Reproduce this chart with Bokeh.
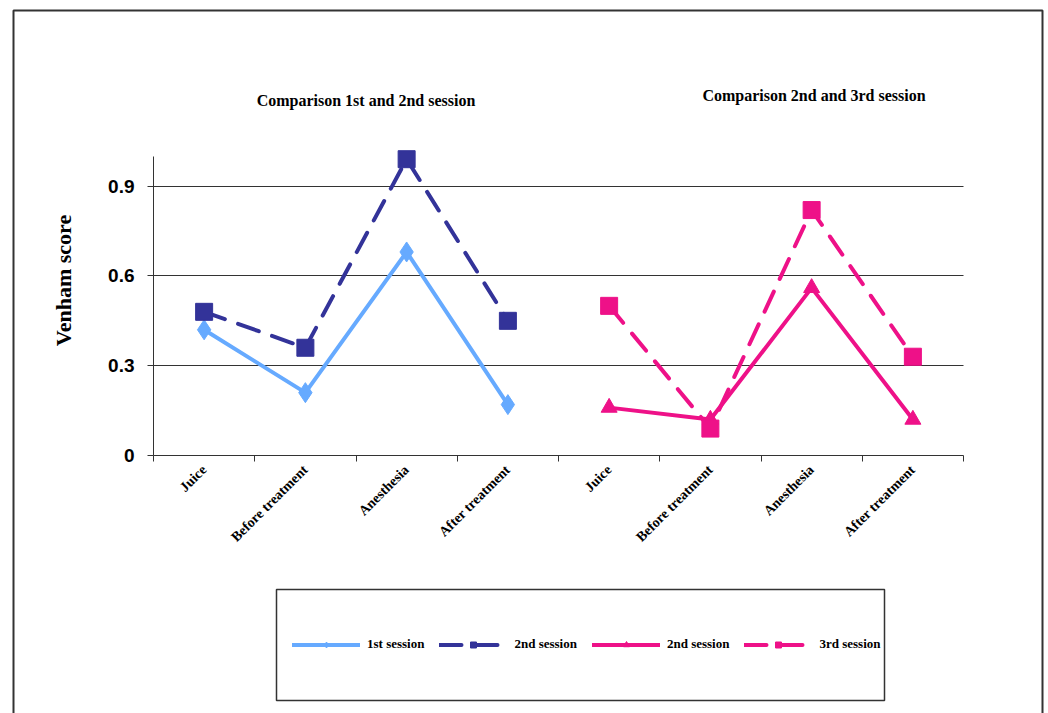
import math
from bokeh.plotting import figure
from bokeh.models import (FixedTicker, Legend, LegendItem, Label, BoxAnnotation, Range1d)
from bokeh.embed import file_html
from bokeh.resources import INLINE

# ---- data ----
categories = ["Juice", "Before treatment", "Anesthesia", "After treatment"]
session1 = [0.42, 0.21, 0.68, 0.17]          # 1st session (left panel)
session2_left = [0.48, 0.36, 0.99, 0.45]     # 2nd session (left panel)
session2_right = [0.16, 0.12, 0.56, 0.12]    # 2nd session (right panel)
session3 = [0.50, 0.09, 0.82, 0.33]          # 3rd session (right panel)
y_ticks = [0, 0.3, 0.6, 0.9]
y_tick_labels = ["0", "0.3", "0.6", "0.9"]
y_label = "Venham score"
titles = ["Comparison 1st and 2nd session", "Comparison 2nd and 3rd session"]
legend_labels = ["1st session", "2nd session", "2nd session", "3rd session"]

n = len(categories)
x_left = [i + 0.5 for i in range(n)]
x_right = [n + i + 0.5 for i in range(n)]

W, H = 1048, 713
# plot area in pixels: x 0..2n -> 153..963, y 0..1 -> 455..155.7
PX0, PX1 = 153, 963
PY0, PY1 = 455, 155.7
sx = (PX1 - PX0) / (2 * n)
sy = (PY0 - PY1) / 1.0


def px_x(px):
    return (px - PX0) / sx


def px_y(py):
    return (PY0 - py) / sy


LIGHT = "#66AAFF"
DARK = "#333399"
PINK = "#EE1188"
SERIF = "Liberation Serif"
AX = "#333333"

p = figure(width=W, height=H, output_backend="svg", toolbar_location=None, title=None,
           x_range=Range1d(px_x(0), px_x(W)), y_range=Range1d(px_y(H), px_y(0)),
           min_border=0, background_fill_color="white", border_fill_color="white")
p.outline_line_color = None

# axes fixed at the data origin
p.xaxis.fixed_location = 0
p.xaxis.bounds = (0, 2 * n)
p.xaxis.ticker = FixedTicker(ticks=x_left + x_right, minor_ticks=list(range(2 * n + 1)))
p.xaxis.major_label_overrides = {x: c for x, c in zip(x_left + x_right, categories * 2)}
p.xaxis.major_tick_out = 0
p.xaxis.major_tick_in = 0
p.xaxis.minor_tick_out = 6
p.xaxis.minor_tick_in = 0
p.xaxis.major_label_orientation = math.pi / 4
p.xaxis.major_label_text_font = SERIF
p.xaxis.major_label_text_font_style = "bold"
p.xaxis.major_label_text_font_size = "14px"
p.xaxis.major_label_text_color = "black"
p.xaxis.major_label_standoff = 6
p.xaxis.axis_line_color = AX
p.xaxis.minor_tick_line_color = AX

p.yaxis.fixed_location = 0
p.yaxis.bounds = (0, 1)
p.yaxis.ticker = FixedTicker(ticks=y_ticks, minor_ticks=[])
p.yaxis.major_label_overrides = {t: l for t, l in zip(y_ticks, y_tick_labels)}
p.yaxis.major_tick_out = 6
p.yaxis.major_tick_in = 0
p.yaxis.minor_tick_out = 0
p.yaxis.major_label_text_font = "Liberation Sans"
p.yaxis.major_label_text_font_style = "bold"
p.yaxis.major_label_text_font_size = "19px"
p.yaxis.major_label_text_color = "black"
p.yaxis.major_label_standoff = 13
p.yaxis.axis_line_color = AX
p.yaxis.major_tick_line_color = AX

p.xgrid.visible = False
p.ygrid.ticker = FixedTicker(ticks=y_ticks[1:])
p.ygrid.cross_bounds = (0, 2 * n)
p.ygrid.grid_line_color = AX
p.ygrid.grid_line_width = 1

# y axis title
p.add_layout(Label(x=px_x(63), y=px_y(280), text=y_label, angle=math.pi / 2,
                   text_font=SERIF, text_font_style="bold", text_font_size="22px",
                   text_align="center", text_baseline="middle", text_color="black"))

# series
dash = "22 14"
r1l = p.line(x_left, session1, line_color=LIGHT, line_width=4, line_cap="round")
r1s = p.scatter(x_left, session1, marker="diamond", size=20, color=LIGHT)
r2l = p.line(x_left, session2_left, line_color=DARK, line_width=4, line_dash=dash, line_cap="round")
r2s = p.scatter(x_left, session2_left, marker="square", size=17, color=DARK)
r3l = p.line(x_right, session2_right, line_color=PINK, line_width=4, line_cap="round")
r3s = p.scatter(x_right, session2_right, marker="triangle", size=16, color=PINK)
r4l = p.line(x_right, session3, line_color=PINK, line_width=4, line_dash=dash, line_cap="round")
r4s = p.scatter(x_right, session3, marker="square", size=17, color=PINK)

# panel titles
for t, cx, cy in zip(titles, [365.5, 813.5], [100, 95]):
    p.add_layout(Label(x=px_x(cx), y=px_y(cy), text=t, text_font=SERIF, text_font_style="bold",
                       text_font_size="16px", text_align="center", text_baseline="middle",
                       text_color="black"))

# legend
items = [LegendItem(label=lab, renderers=rs) for lab, rs in
         zip(legend_labels, [[r1l, r1s], [r2l, r2s], [r3l, r3s], [r4l, r4s]])]
legend = Legend(items=items, orientation="horizontal", location=(286, H - 658),
                glyph_width=68, glyph_height=15, label_standoff=7, spacing=15, padding=6,
                label_text_font=SERIF, label_text_font_style="bold", label_text_font_size="13px",
                label_text_color="black", background_fill_alpha=0, border_line_alpha=0)
p.add_layout(legend, "center")

# legend frame and outer frame
p.add_layout(BoxAnnotation(left=px_x(276), right=px_x(884), top=px_y(589), bottom=px_y(700),
                           fill_alpha=0, line_color=AX, line_alpha=1, line_width=1.5))
p.add_layout(BoxAnnotation(left=px_x(13), right=px_x(1042), top=px_y(10), bottom=px_y(740),
                           fill_alpha=0, line_color=AX, line_alpha=1, line_width=2))

open("out.html", "w").write(file_html(p, INLINE))
